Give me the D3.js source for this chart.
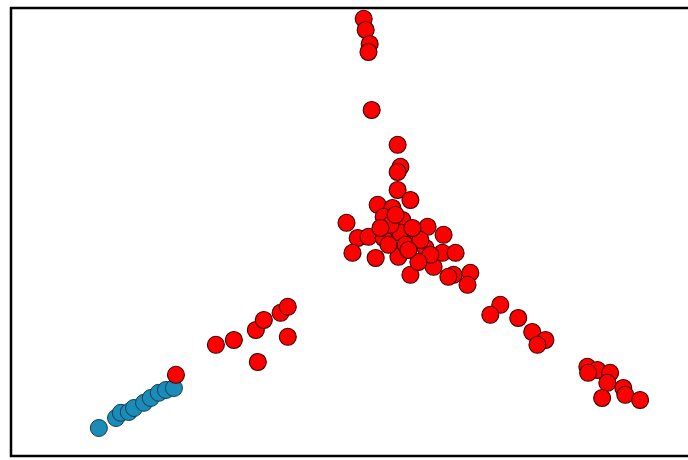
<!DOCTYPE html>
<html>
<head>
<meta charset="utf-8">
<script src="https://cdn.jsdelivr.net/npm/d3@7"></script>
<style>
  html, body { margin: 0; padding: 0; background: #fff; }
  svg { display: block; }
</style>
</head>
<body>
<div id="app"></div>
<script>
// cluster A (red) projected coordinates
const redX = [
  7.83, 7.88, 7.98, 7.95, 8.03, 8.68, 8.75, 8.68, 8.68, 9.00,
  8.18, 8.55, 7.40, 8.33, 8.80, 9.43, 9.83, 7.68, 7.95, 8.33,
  8.75, 9.13, 7.55, 8.13, 8.70, 9.38, 9.80, 10.13, 9.58, 9.00,
  10.08, 10.50, 10.43, 9.95, 8.50, 8.88, 9.25, 8.63, 9.05, 9.50,
  9.20, 8.95, 8.45, 8.25,
  11.25, 11.00, 11.70, 12.05, 12.38, 12.18, 13.43, 13.68, 13.45, 14.00,
  13.93, 13.80, 14.33, 14.38, 14.75,
  4.13, 4.58, 5.13, 5.33, 5.75, 5.93, 5.93, 5.18, 3.13
];
const redY = [
  9.93, 9.65, 9.30, 9.10, 7.65, 6.78, 6.23, 6.10, 5.65, 5.40,
  5.28, 5.20, 4.83, 4.98, 4.90, 4.73, 4.53, 4.45, 4.48, 4.45,
  4.58, 4.48, 4.08, 3.95, 3.98, 4.20, 4.08, 4.08, 3.73, 3.53,
  3.53, 3.58, 3.28, 3.48, 4.78, 4.28, 4.40, 5.03, 4.70, 4.03,
  3.85, 4.15, 4.28, 4.70,
  2.78, 2.53, 2.45, 2.10, 1.90, 1.78, 1.23, 1.15, 1.08, 1.08,
  0.83, 0.45, 0.70, 0.53, 0.40,
  1.78, 1.90, 2.15, 2.40, 2.58, 2.73, 1.98, 1.35, 1.03
];

// cluster B (blue)
const blueX = [1.20, 1.63, 1.75, 1.95, 2.08, 2.33, 2.50, 2.70, 2.88, 3.08];
const blueY = [-0.30, -0.05, 0.08, 0.10, 0.20, 0.33, 0.45, 0.58, 0.65, 0.70];

const xDomain = [-1, 16];
const yDomain = [-1, 10.2];

const width = 688;
const height = 460;
const margin = { top: 8, right: -2, bottom: 4, left: 11 };

const svg = d3
  .select("#app")
  .append("svg")
  .attr("width", width)
  .attr("height", height)
  .attr("viewBox", [0, 0, width, height]);

const x = d3.scaleLinear().domain(xDomain).range([margin.left, width - margin.right]);
const y = d3.scaleLinear().domain(yDomain).range([height - margin.bottom, margin.top]);

const red = redX.map((v, i) => ({ x: v, y: redY[i] }));
const blue = blueX.map((v, i) => ({ x: v, y: blueY[i] }));

svg
  .append("g")
  .selectAll("circle")
  .data(blue)
  .join("circle")
  .attr("cx", (d) => x(d.x))
  .attr("cy", (d) => y(d.y))
  .attr("r", 8.5)
  .attr("fill", "#1b8cb8")
  .attr("stroke", "#0b3f55")
  .attr("stroke-width", 1);

svg
  .append("g")
  .selectAll("circle")
  .data(red)
  .join("circle")
  .attr("cx", (d) => x(d.x))
  .attr("cy", (d) => y(d.y))
  .attr("r", 8.5)
  .attr("fill", "#ff0000")
  .attr("stroke", "#3a0000")
  .attr("stroke-width", 1.1);

// frame
svg
  .append("rect")
  .attr("x", x(xDomain[0]))
  .attr("y", y(yDomain[1]))
  .attr("width", x(xDomain[1]) - x(xDomain[0]))
  .attr("height", y(yDomain[0]) - y(yDomain[1]))
  .attr("fill", "none")
  .attr("stroke", "#000")
  .attr("stroke-width", 2.5);
</script>
</body>
</html>
